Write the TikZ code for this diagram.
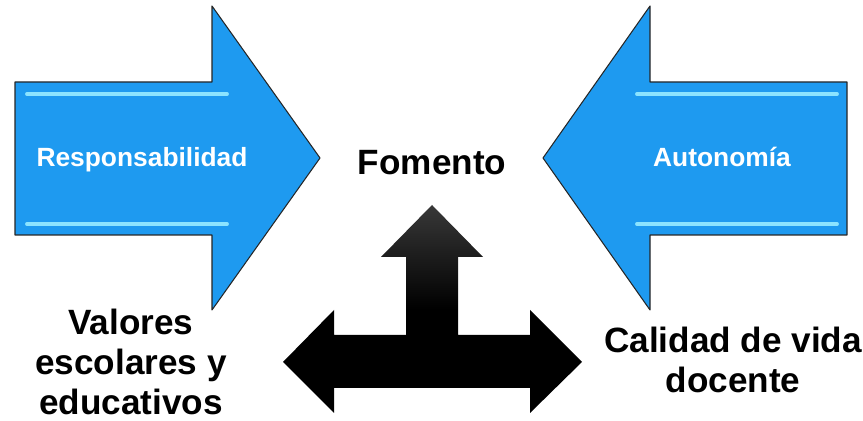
\documentclass[tikz,border=0pt]{standalone}
\usepackage{fontspec}
\setmainfont{Liberation Sans}
\definecolor{flechaazul}{RGB}{30,154,240}
\definecolor{brillo}{RGB}{140,228,255}

\begin{document}
\begin{tikzpicture}[x=0.02cm, y=-0.02cm, line cap=round, line join=round,
  azul/.style={fill=flechaazul, draw=black!85, line width=0.6pt},
  brilla/.style={brillo, line width=2.2pt},
  negra/.style={top color=black!78, bottom color=black, middle color=black, draw=none},
  rotulo/.style={text=white, font=\bfseries\fontsize{15}{18}\selectfont, anchor=base},
  texto/.style={font=\bfseries\fontsize{20}{22.8}\selectfont, align=center, anchor=base}]

\useasboundingbox (0,0) rectangle (863,421);

% left arrow
\begin{scope}
\draw[azul] (15,82) -- (212,82) -- (212,6) -- (320,158) -- (212,310) -- (212,235) -- (15,235) -- cycle;
\draw[brilla] (27,94) -- (227,94);
\draw[brilla] (27,224) -- (227,224);
\node[rotulo] (resp) at (142,167) {Responsabilidad};
\end{scope}

% right arrow
\begin{scope}
\draw[azul] (847,82) -- (650,82) -- (650,6) -- (543,158) -- (650,310) -- (650,235) -- (847,235) -- cycle;
\draw[brilla] (637,94) -- (837,94);
\draw[brilla] (637,224) -- (837,224);
\node[rotulo] (auto) at (722,167) {Autonomía};
\end{scope}

% black arrow
\shade[negra] (432,205) -- (483,257) -- (458,257) -- (458,335) -- (530,335) -- (530,310)
  -- (582,362) -- (530,413) -- (530,388) -- (334,388) -- (334,413) -- (283,362)
  -- (334,310) -- (334,335) -- (406,335) -- (406,257) -- (381,257) -- cycle;

% labels (base = last line)
\node[texto] (fomento) at (432,175) {Fomento};
\node[texto] (valores) at (131,415) {Valores\\escolares y\\educativos};
\node[texto] (calidad) at (733,393) {Calidad de vida\\docente};

\end{tikzpicture}
\end{document}
